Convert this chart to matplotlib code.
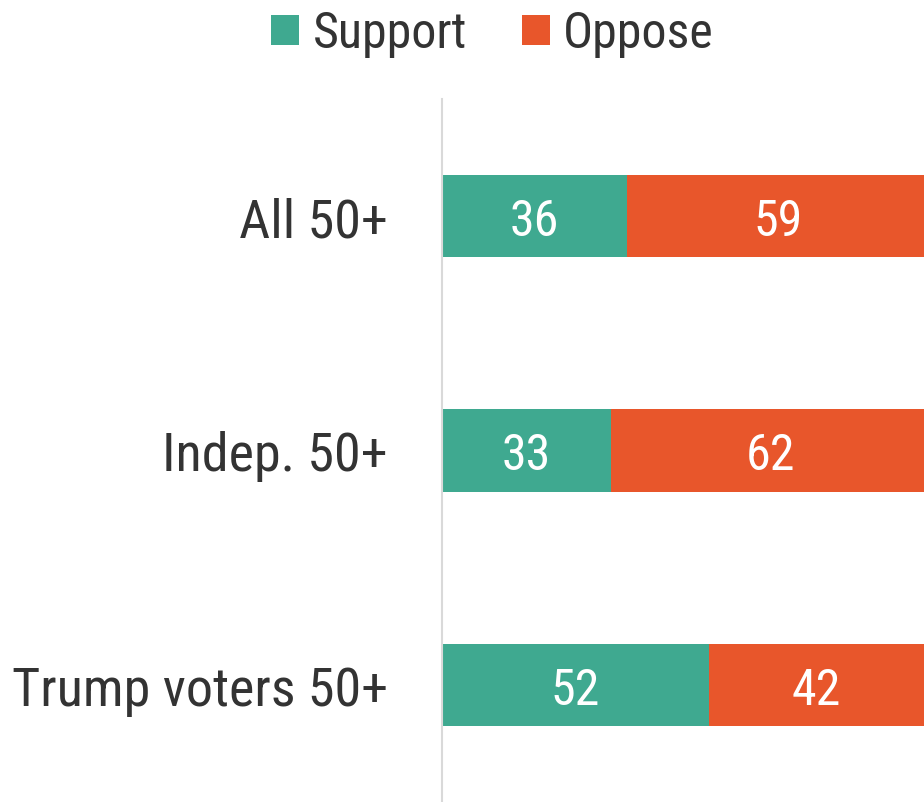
import matplotlib
matplotlib.use("Agg")
import matplotlib.pyplot as plt
from matplotlib.patches import Patch

# Data
groups = ["All 50+", "Indep. 50+", "Trump voters 50+"]
support = [36, 33, 52]
oppose = [59, 62, 42]
series_names = ["Support", "Oppose"]
colors = ["#3fa990", "#e8562b"]

plt.rcParams["font.family"] = ["Liberation Sans Narrow", "Roboto Condensed",
                               "Archivo Narrow", "DejaVu Sans"]
text_color = "#333333"

fig = plt.figure(figsize=(9.24, 8.03), dpi=100)
ax = fig.add_axes([442 / 924, 0.0, 1 - 442 / 924, (803 - 100) / 803])

ypos = list(range(len(groups)))
bar_h = 0.35
ax.barh(ypos, support, height=bar_h, color=colors[0], linewidth=0)
ax.barh(ypos, oppose, left=support, height=bar_h, color=colors[1], linewidth=0)

for y, s, o in zip(ypos, support, oppose):
    ax.text(s / 2, y, f"{s}", ha="center", va="center_baseline",
            color="white", fontsize=36)
    ax.text(s + o / 2, y, f"{o}", ha="center", va="center_baseline",
            color="white", fontsize=36)

ax.set_xlim(0, 94)
ax.set_ylim(len(groups) - 0.5, -0.5)
ax.set_yticks(ypos)
ax.set_yticklabels(groups, fontsize=39, color=text_color, va="center_baseline")
ax.tick_params(axis="y", length=0, pad=39)
ax.set_xticks([])
for side in ["top", "right", "bottom"]:
    ax.spines[side].set_visible(False)
ax.spines["left"].set_color("#d9d9d9")
ax.spines["left"].set_linewidth(1.5)

handles = [Patch(facecolor=c, edgecolor="none") for c in colors]
fig.legend(handles, series_names, loc="upper center", bbox_to_anchor=(0.533, 1.043),
           ncol=2, frameon=False, fontsize=36, labelcolor=text_color,
           handlelength=0.56, handleheight=0.56, handletextpad=0.26, columnspacing=1.1)

fig.savefig("out.png", dpi=100)
